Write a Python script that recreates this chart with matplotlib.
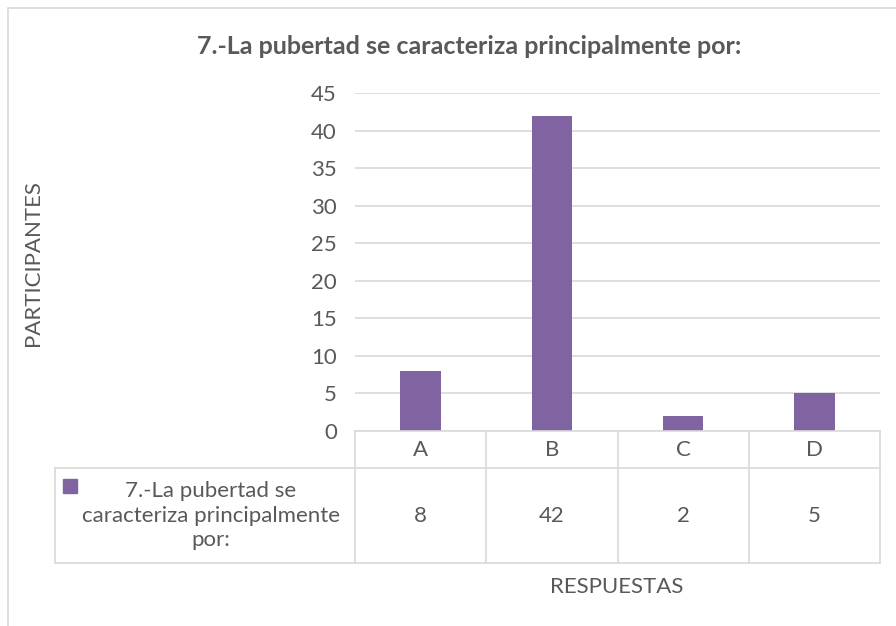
import matplotlib
matplotlib.use("Agg")
import matplotlib.pyplot as plt
import matplotlib.transforms as mtransforms
from matplotlib.patches import Rectangle
from matplotlib.lines import Line2D

categories = ["A", "B", "C", "D"]
values = [8, 42, 2, 5]
series_name = "7.-La pubertad se\ncaracteriza principalmente\npor:"
title = "7.-La pubertad se caracteriza principalmente por:"
y_ticks = [0, 5, 10, 15, 20, 25, 30, 35, 40, 45]

bar_color = "#8064A2"
text_color = "#595959"
line_color = "#D9D9D9"
fs = 16

plt.rcParams["font.family"] = ["Lato", "DejaVu Sans"]

W, H = 896, 626
fig = plt.figure(figsize=(W / 100, H / 100), dpi=100)


def fx(px):
    return px / W


def fy(py):
    return 1 - py / H


# outer chart frame (cropped at right/bottom in the original)
fig.patches.append(Rectangle((fx(8), fy(640)), fx(900) - fx(8), fy(8) - fy(640),
                             transform=fig.transFigure, fill=False,
                             edgecolor=line_color, linewidth=1.2))

left, right, top, bottom = 355, 880, 93, 431
ax = fig.add_axes([fx(left), fy(bottom), fx(right) - fx(left), fy(top) - fy(bottom)])

x = list(range(len(categories)))
ax.bar(x, values, width=0.31, color=bar_color, zorder=3)
ax.set_xlim(-0.5, len(categories) - 0.5)
ax.set_ylim(0, 45)
ax.set_yticks(y_ticks)
ax.set_xticks([])
ax.tick_params(axis="y", length=0, labelsize=fs, labelcolor=text_color, pad=13)
ax.yaxis.grid(True, color=line_color, linewidth=1.2, zorder=0)
for s in ax.spines.values():
    s.set_visible(False)

# data table under the plot
tr = mtransforms.blended_transform_factory(ax.transData, fig.transFigure)
col_edges = [i - 0.5 for i in range(len(categories) + 1)]
y_top, y_mid, y_bot = fy(431), fy(468), fy(563)
lbl_left = fx(55)

# horizontal lines
fig.add_artist(Line2D([col_edges[0], col_edges[-1]], [y_top, y_top], transform=tr,
                      color=line_color, linewidth=1.2))
fig.add_artist(Line2D([lbl_left, fx(right)], [y_mid, y_mid], transform=fig.transFigure,
                      color=line_color, linewidth=1.2))
fig.add_artist(Line2D([lbl_left, fx(right)], [y_bot, y_bot], transform=fig.transFigure,
                      color=line_color, linewidth=1.2))
# vertical lines
fig.add_artist(Line2D([lbl_left, lbl_left], [y_mid, y_bot], transform=fig.transFigure,
                      color=line_color, linewidth=1.2))
for e in col_edges:
    fig.add_artist(Line2D([e, e], [y_top, y_bot], transform=tr,
                          color=line_color, linewidth=1.2))

for i, (c, v) in enumerate(zip(categories, values)):
    fig.text(i, (y_top + y_mid) / 2, c, transform=tr, ha="center", va="center",
             fontsize=fs, color=text_color)
    fig.text(i, (y_mid + y_bot) / 2, str(v), transform=tr, ha="center", va="center",
             fontsize=fs, color=text_color)

# legend key and series name
fig.patches.append(Rectangle((fx(63), fy(493)), fx(14), fy(479) - fy(493),
                             transform=fig.transFigure, color=bar_color))
fig.text(fx(211), (y_mid + y_bot) / 2, series_name, ha="center", va="center",
         multialignment="center", fontsize=fs, color=text_color, linespacing=1.3)

fig.text(fx(469), fy(47), title, ha="center", va="center", fontsize=18,
         fontweight="bold", color=text_color)
fig.text(fx(33), fy(263), "PARTICIPANTES", ha="center", va="center", rotation=90,
         fontsize=fs, color=text_color)
fig.text(fx(617), fy(587), "RESPUESTAS", ha="center", va="center",
         fontsize=fs, color=text_color)

fig.savefig("out.png", dpi=100)
